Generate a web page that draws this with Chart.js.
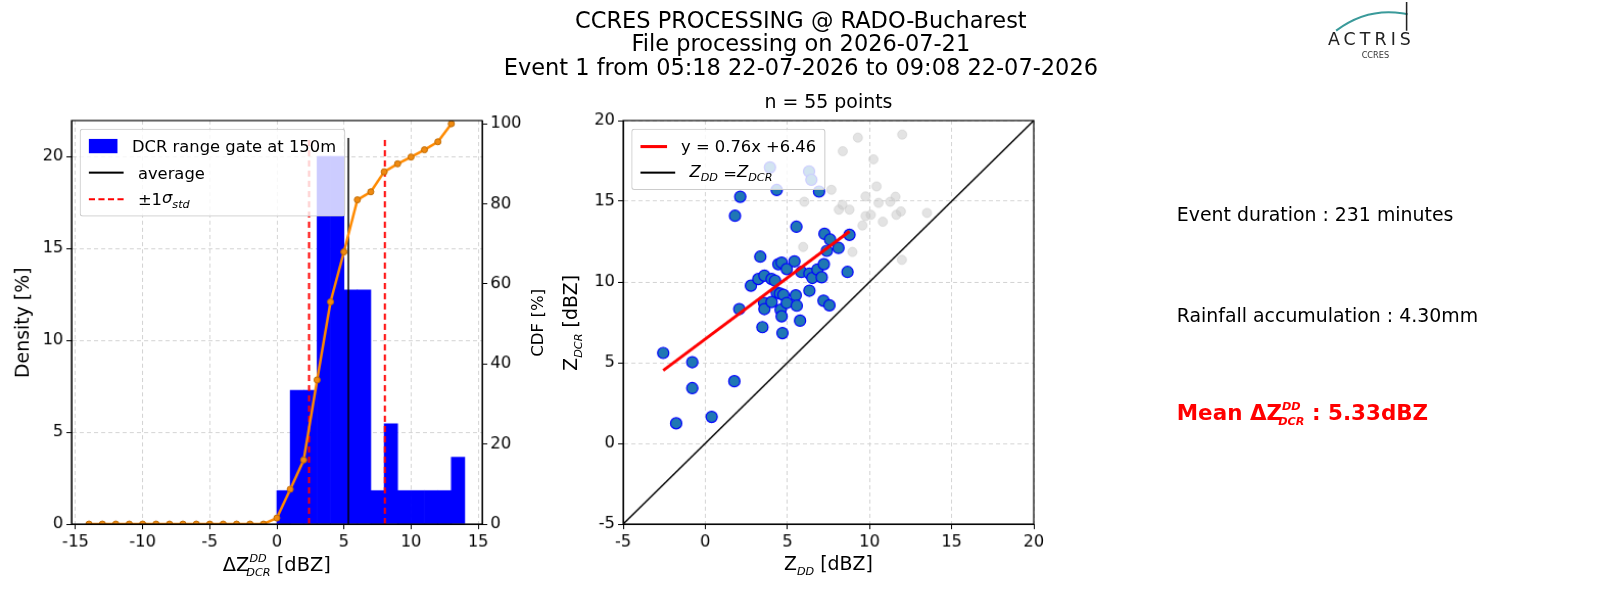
<!DOCTYPE html>
<html><head><meta charset="utf-8">
<script src="https://cdn.jsdelivr.net/npm/chart.js@4"></script>
<style>
html,body{margin:0;width:1600px;height:600px;overflow:hidden}
body{background:#fff;font-family:"DejaVu Sans",sans-serif}
#wrap{position:relative;width:1600px;height:600px;transform:scale(1.0215);transform-origin:0 0}
.abs{position:absolute;white-space:nowrap}
.rot{transform:translate(-50%,-50%) rotate(-90deg)}
.ctr{transform:translateX(-50%)}
.leg{position:absolute;background:rgba(255,255,255,0.8);border:1px solid #ccc;border-radius:3px;font-size:16px;padding:3px 8px;white-space:nowrap}
.leg div{height:26px;display:flex;align-items:center}
.sw{display:inline-block;width:34px;margin-right:14px}
sub,sup{font-size:11px}
</style></head><body><div id="wrap">
<div class="abs ctr" style="left:784px;top:8px;font-size:22px;text-align:center;line-height:23px">CCRES PROCESSING @ RADO-Bucharest<br>File processing on 2026-07-21<br>Event 1 from 05:18 22-07-2026 to 09:08 22-07-2026</div>
<div class="abs" style="left:1300px;top:28px;font-size:17px;letter-spacing:4px;color:#222">ACTRIS</div>
<div class="abs" style="left:1333px;top:50px;font-size:8px;color:#333">CCRES</div>
<svg class="abs" style="left:1300px;top:2px" width="100" height="30"><path d="M8 28 Q40 4 78 12" stroke="#3a9a9a" stroke-width="2" fill="none"/><line x1="77" y1="0" x2="77" y2="28" stroke="#222" stroke-width="1.5"/></svg>

<canvas id="hist" class="abs" style="left:0;top:100px"></canvas>
<canvas id="scat" class="abs" style="left:540px;top:100px"></canvas>

<div class="abs rot" style="left:22px;top:316px;font-size:18.5px">Density [%]</div>
<div class="abs rot" style="left:526px;top:316px;font-size:16.3px">CDF [%]</div>
<div class="abs ctr" style="left:271px;top:541px;font-size:19px">ΔZ<sup style="position:relative;top:-2px"><i>DD</i></sup><sub style="margin-left:-20px"><i>DCR</i></sub> [dBZ]</div>
<div class="abs ctr" style="left:811px;top:89px;font-size:18.5px">n = 55 points</div>
<div class="abs rot" style="left:560px;top:316px;font-size:18.5px">Z<sub><i>DCR</i></sub> [dBZ]</div>
<div class="abs ctr" style="left:811px;top:541px;font-size:18.5px">Z<sub><i>DD</i></sub> [dBZ]</div>

<div class="leg" style="left:78px;top:126px;width:242px">
<div><span class="sw" style="height:14px;background:#0000ff"></span>DCR range gate at 150m</div>
<div><span class="sw" style="border-top:2px solid #000"></span>average</div>
<div><span class="sw" style="border-top:2px dashed #f00"></span>±1<i>σ<sub>std</sub></i></div>
</div>
<div class="leg" style="left:618px;top:126px;width:172px">
<div><span class="sw" style="border-top:3px solid #f00"></span>y = 0.76x +6.46</div>
<div><span class="sw" style="border-top:2px solid #000"></span><i>Z<sub>DD</sub></i>&nbsp;= <i>Z<sub>DCR</sub></i></div>
</div>

<div class="abs" style="left:1152px;top:199px;font-size:18.5px">Event duration : 231 minutes</div>
<div class="abs" style="left:1152px;top:298px;font-size:18.5px">Rainfall accumulation : 4.30mm</div>
<div class="abs" style="left:1152px;top:392px;font-size:21px;color:#f00;font-weight:bold">Mean ΔZ<sup style="position:relative;top:-2px"><i>DD</i></sup><sub style="margin-left:-22px"><i>DCR</i></sub> : 5.33dBZ</div>
</div>
<script>
const binCenters = [0.5,1.5,2.5,3.5,4.5,5.5,6.5,7.5,8.5,9.5,10.5,11.5,12.5,13.5];
const density = [1.82,7.27,7.27,20,20,12.73,12.73,1.82,5.45,1.82,1.82,1.82,1.82,3.64];
const cdfX = [-14,-13,-12,-11,-10,-9,-8,-7,-6,-5,-4,-3,-2,-1,0,1,2,3,4,5,6,7,8,9,10,11,12,13];
const cdfY = [0,0,0,0,0,0,0,0,0,0,0,0,0,0,1.5,8.7,16,36,55.5,68,81,83,88,90,91.7,93.5,95.5,100];
const meanDelta = 5.33;
const stdLow = 2.4, stdHigh = 8.05;
const histXTicks = [-15,-10,-5,0,5,10,15];
const densityTicks = [0,5,10,15,20];
const cdfTicks = [0,20,40,60,80,100];

const zddBlue = [-2.56,-1.77,-0.79,-0.79,0.39,1.77,1.81,2.13,2.07,2.78,3.35,3.23,3.6,3.48,3.58,3.6,4.04,4.04,4.25,3.94,4.35,4.45,4.65,4.96,4.35,4.55,4.76,4.59,4.65,4.7,4.96,5.43,5.55,5.51,5.57,5.77,5.85,6.34,6.34,6.52,6.32,6.46,6.83,6.93,7.09,7.22,7.26,7.2,7.56,7.4,7.6,8.11,8.66,8.78];
const zdcrBlue = [5.6,1.24,5.03,3.42,1.64,3.85,14.1,15.28,8.32,9.77,11.57,10.18,10.39,7.2,8.7,8.32,10.18,8.76,10.08,17.1,15.7,11.1,11.2,10.8,9.35,9.28,9.2,8.28,7.87,6.83,8.7,11.28,13.42,9.17,8.53,7.6,10.62,9.46,10.52,10.25,16.85,16.33,10.77,15.6,10.29,11.1,12.98,8.84,8.55,11.93,12.63,12.11,10.62,12.92];
const zddGrey = [9.29,11.99,8.37,10.24,7.68,6.03,8.35,10.43,9.76,10.55,11.58,11.26,8.13,8.78,9.76,10.08,10.81,11.63,11.91,13.5,9.57,5.96,8.96,11.97];
const zdcrGrey = [18.94,19.13,18.1,17.6,15.71,14.97,14.78,15.92,15.3,14.9,15.28,14.97,14.48,14.48,14.08,14.16,13.73,14.16,14.37,14.28,13.5,12.17,11.86,11.37];
const fitSlope = 0.76, fitIntercept = 6.46;

Chart.defaults.font.family = '"DejaVu Sans", sans-serif';
Chart.defaults.font.size = 16;
Chart.defaults.color = '#000';

const frame = {
  id: 'frame',
  afterDraw(c) {
    const a = c.chartArea, g = c.ctx;
    g.save(); g.strokeStyle = '#000'; g.lineWidth = 1.2;
    g.strokeRect(a.left, a.top, a.right - a.left, a.bottom - a.top);
    g.restore();
  }
};
const grid = { color: '#d4d4d4', tickColor: '#000', tickLength: 5 };
const border = { color: '#000', dash: [4, 3] };
function fixW(w) { return s => { s.width = w; }; }
function fixH(h) { return s => { s.height = h; }; }
function setTicks(list) { return s => { s.ticks = list.map(v => ({value: v})); }; }

const hc = document.getElementById('hist');
hc.width = 540; hc.height = 480;
new Chart(hc, {
  type: 'bar',
  data: {
    datasets: [
      { type: 'line', data: [{x: meanDelta, y: 0}, {x: meanDelta, y: 21}], borderColor: '#000', borderWidth: 1.5, pointRadius: 0, yAxisID: 'y', order: 1 },
      { type: 'line', data: [{x: stdLow, y: 0}, {x: stdLow, y: 21}], borderColor: '#f00', borderWidth: 2, borderDash: [6, 4], pointRadius: 0, yAxisID: 'y', order: 1 },
      { type: 'line', data: [{x: stdHigh, y: 0}, {x: stdHigh, y: 21}], borderColor: '#f00', borderWidth: 2, borderDash: [6, 4], pointRadius: 0, yAxisID: 'y', order: 1 },
      { type: 'line', data: cdfX.map((x, i) => ({x, y: cdfY[i]})), borderColor: '#ff8a00', borderWidth: 2.5, pointRadius: 3, pointBackgroundColor: '#f08a10', pointBorderColor: '#c06a00', pointBorderWidth: 1, yAxisID: 'y1', order: 0 },
      { type: 'bar', data: binCenters.map((x, i) => ({x, y: density[i]})), backgroundColor: '#0000ff', barPercentage: 1, categoryPercentage: 1, yAxisID: 'y', order: 2 }
    ]
  },
  options: {
    responsive: false, animation: false,
    layout: { padding: { top: 18 } },
    plugins: { legend: { display: false }, tooltip: { enabled: false } },
    scales: {
      x: { type: 'linear', offset: false, min: -15.3, max: 15.3, afterFit: fixH(67), afterBuildTicks: setTicks(histXTicks), grid: { ...grid, offset: false }, border },
      y: { min: 0, max: 21.95, afterFit: fixW(70), afterBuildTicks: setTicks(densityTicks), grid, border },
      y1: { position: 'right', min: 0, max: 100.8, afterFit: fixW(68), afterBuildTicks: setTicks(cdfTicks), grid: { drawOnChartArea: false, tickColor: '#000', tickLength: 5 }, border: { color: '#000' } }
    }
  },
  plugins: [frame]
});

const sc = document.getElementById('scat');
sc.width = 500; sc.height = 480;
new Chart(sc, {
  type: 'scatter',
  data: {
    datasets: [
      { data: [{x: zddBlue[0], y: fitSlope * zddBlue[0] + fitIntercept}, {x: 8.78, y: fitSlope * 8.78 + fitIntercept}], showLine: true, borderColor: '#f00', borderWidth: 3, pointRadius: 0, order: 0 },
      { data: [{x: -5, y: -5}, {x: 20, y: 20}], showLine: true, borderColor: '#000', borderWidth: 1.5, pointRadius: 0, order: 3 },
      { data: zddGrey.map((x, i) => ({x, y: zdcrGrey[i]})), backgroundColor: 'rgba(200,200,200,0.5)', borderColor: 'rgba(200,200,200,0.5)', pointRadius: 4.5, order: 2 },
      { data: zddBlue.map((x, i) => ({x, y: zdcrBlue[i]})), backgroundColor: '#1f77b4', borderColor: '#0000ff', borderWidth: 1.2, pointRadius: 5.5, order: 1 }
    ]
  },
  options: {
    responsive: false, animation: false,
    layout: { padding: { top: 18, right: 28 } },
    plugins: { legend: { display: false }, tooltip: { enabled: false } },
    scales: {
      x: { min: -5, max: 20, afterFit: fixH(67), ticks: { stepSize: 5 }, grid, border },
      y: { min: -5, max: 20, afterFit: fixW(70), ticks: { stepSize: 5 }, grid, border }
    }
  },
  plugins: [frame]
});
</script>
</body></html>
